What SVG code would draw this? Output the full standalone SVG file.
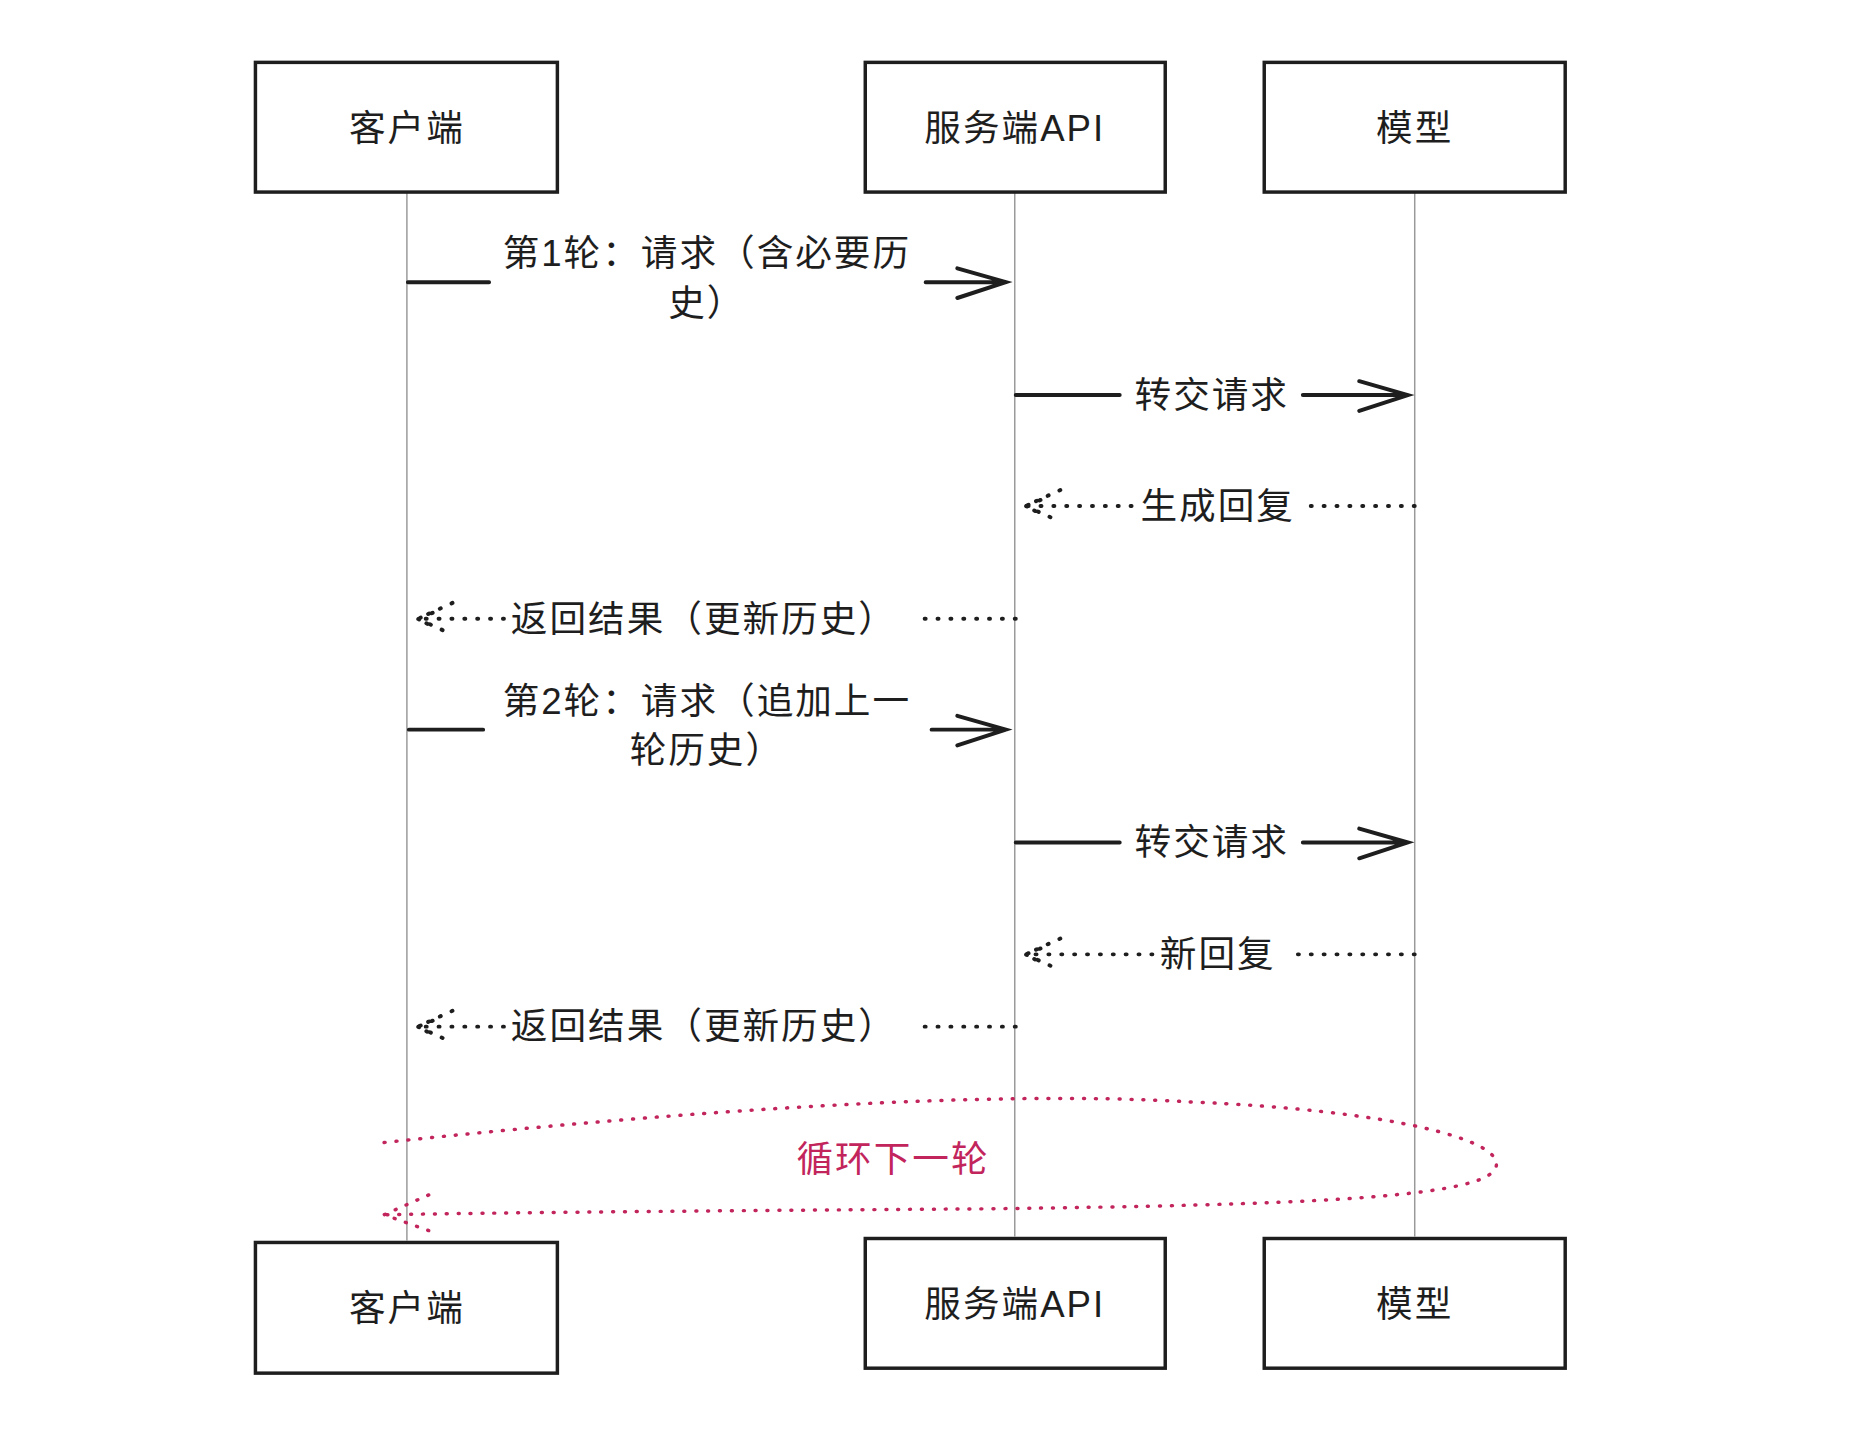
<svg xmlns="http://www.w3.org/2000/svg" width="1876" height="1452" viewBox="0 0 1876 1452">
<style>
.box{fill:#fff;stroke:#1e1e1e;stroke-width:3.5}
.t{font-family:"Liberation Sans","Noto Sans CJK SC",sans-serif;font-size:37px;fill:#1e1e1e;text-anchor:middle;letter-spacing:2px}
.life{stroke:#999;stroke-width:1.5}
.sol{stroke:#1e1e1e;stroke-width:4;fill:none;stroke-linecap:round}
.dot{stroke:#1e1e1e;stroke-width:4;fill:none;stroke-dasharray:1 12;stroke-linecap:round}
.pk{stroke:#c2255c;stroke-width:3.5;fill:none;stroke-dasharray:1 11;stroke-linecap:round}
</style>
<rect width="1876" height="1452" fill="#fff"/>
<g transform="translate(1,1) scale(0.99)">
<g id="lifelines">
<line class="life" x1="410" y1="193" x2="410" y2="1252"/>
<line class="life" x1="1024" y1="193" x2="1024" y2="1248"/>
<line class="life" x1="1428" y1="193" x2="1428" y2="1248"/>
</g>
<g id="client-top"><rect class="box" x="257" y="62" width="305" height="131"/><text class="t" x="410" y="141">客户端</text></g>
<g id="server-top"><rect class="box" x="873" y="62" width="303" height="131"/><text class="t" x="1024" y="141">服务端API</text></g>
<g id="model-top"><rect class="box" x="1276" y="62" width="304" height="131"/><text class="t" x="1428" y="141">模型</text></g>
<g id="client-bot"><rect class="box" x="257" y="1254" width="305" height="132"/><text class="t" x="410" y="1333">客户端</text></g>
<g id="server-bot"><rect class="box" x="873" y="1250" width="303" height="131"/><text class="t" x="1024" y="1329">服务端API</text></g>
<g id="model-bot"><rect class="box" x="1276" y="1250" width="304" height="131"/><text class="t" x="1428" y="1329">模型</text></g>
<g id="connectors">
<path class="sol" d="M411 284H493M934 284H1015M966 270L1015 284L966 300"/>
<path class="sol" d="M1025 398H1130M1315 398H1421M1372 384L1421 398L1372 414"/>
<path class="dot" d="M1428 510H1321M1142 510H1035M1070 494L1035 510L1070 526M1050 504L1035 510L1050 518"/>
<path class="dot" d="M1025 624H931M508 624H421M456 608L421 624L456 640M436 618L421 624L436 632"/>
<path class="sol" d="M412 736H487M940 736H1015M966 722L1015 736L966 752"/>
<path class="sol" d="M1025 850H1130M1315 850H1421M1372 836L1421 850L1372 866"/>
<path class="dot" d="M1428 963H1300M1163 963H1035M1070 947L1035 963L1070 979M1050 957L1035 963L1050 971"/>
<path class="dot" d="M1025 1036H931M508 1036H421M456 1020L421 1036L456 1052M436 1030L421 1036L436 1044"/>
<path class="pk" d="M387 1153C700 1120 1000 1100 1200 1112C1400 1120 1520 1150 1510 1178C1500 1210 1300 1216 1000 1220C700 1222 500 1224 387 1226M432 1206L387 1226L432 1242"/>
</g>
<g id="labels">
<text class="t" x="713" y="268">第1轮：请求（含必要历</text>
<text class="t" x="713" y="318">史）</text>
<text class="t" x="1223" y="411">转交请求</text>
<text class="t" x="1229" y="523">生成回复</text>
<text class="t" x="710" y="637">返回结果（更新历史）</text>
<text class="t" x="713" y="720">第2轮：请求（追加上一</text>
<text class="t" x="713" y="770">轮历史）</text>
<text class="t" x="1223" y="863">转交请求</text>
<text class="t" x="1229" y="976">新回复</text>
<text class="t" x="710" y="1049">返回结果（更新历史）</text>
<text class="t" x="901" y="1183" style="fill:#c2255c">循环下一轮</text>
</g>
</g>
</svg>
